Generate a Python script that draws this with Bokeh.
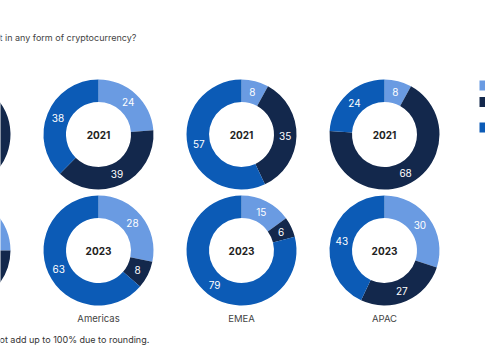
from bokeh.plotting import figure
from bokeh.models import Range1d, ColumnDataSource
from bokeh.core.properties import value
from bokeh.embed import file_html
from bokeh.resources import INLINE
import math

# ---- data ----
regions = ["Global", "Americas", "EMEA", "APAC"]
years = ["2021", "2023"]
series = ["Owned", "Not owned but considered", "Never owned"]
colors = ["#6A9BE2", "#13284C", "#0C5BB6"]
vals_2021 = [[12, 50, 38], [24, 39, 38], [8, 35, 57], [8, 68, 24]]
vals_2023 = [[25, 20, 55], [28, 8, 63], [15, 6, 79], [30, 27, 43]]
title_text = "t in any form of cryptocurrency?"
footnote_text = "ot add up to 100% due to rounding."

# ---- layout (pixels) ----
W, H = 485, 360
col_x0, col_dx = -45, 143
row_y = [134, 250]
r_out, r_in = 55, 32.5
r_lab = (r_out + r_in) / 2
FONT = "Inter"
first_visible = 1  # the leftmost column is cut off by the picture's edge

p = figure(width=W, height=H, output_backend="svg", toolbar_location=None,
           x_range=Range1d(0, W), y_range=Range1d(0, H), min_border=0)
p.axis.visible = False
p.grid.visible = False
p.outline_line_color = None
p.background_fill_color = "white"
p.border_fill_color = "white"
p.styles = {"position": "absolute", "left": "0px", "top": "0px"}

def Y(py):
    return H - py

wx, wy, ws, we, wc = [], [], [], [], []
lx, ly, lt = [], [], []
for ri, data in enumerate([vals_2021, vals_2023]):
    for ci, vals in enumerate(data):
        cx = col_x0 + col_dx * ci
        cy = Y(row_y[ri])
        total = sum(vals)
        cum = 0
        for si, v in enumerate(vals):
            a = cum / total
            b = (cum + v) / total
            wx.append(cx); wy.append(cy)
            ws.append(math.pi / 2 - 2 * math.pi * a)
            we.append(math.pi / 2 - 2 * math.pi * b)
            wc.append(colors[si])
            if ci >= first_visible:
                mid = (a + b) / 2 * 2 * math.pi
                lx.append(cx + r_lab * math.sin(mid))
                ly.append(cy + r_lab * math.cos(mid))
                lt.append(str(v))
            cum += v

src = ColumnDataSource(dict(x=wx, y=wy, s=ws, e=we, c=wc))
p.annular_wedge(x="x", y="y", inner_radius=r_in, outer_radius=r_out,
                start_angle="s", end_angle="e", direction="clock",
                fill_color="c", line_color=None, source=src)
p.text(x=lx, y=ly, text=lt, text_color="white", text_font=value(FONT),
       text_font_size="10px", text_align="center", text_baseline="middle")

# center year labels
cxs, cys, cts = [], [], []
for ri, yr in enumerate(years):
    for ci in range(first_visible, len(regions)):
        cxs.append(col_x0 + col_dx * ci); cys.append(Y(row_y[ri])); cts.append(yr)
p.text(x=cxs, y=cys, text=cts, text_color="#222222", text_font=value(FONT),
       text_font_size="10px", text_font_style="bold", text_align="center", text_baseline="middle")

# region labels
p.text(x=[col_x0 + col_dx * ci for ci in range(first_visible, len(regions))],
       y=[Y(318)] * (len(regions) - first_visible),
       text=regions[first_visible:], text_color="#444444", text_font=value(FONT),
       text_font_size="9.5px", text_align="center", text_baseline="middle")

# title and footnote
p.text(x=[-1], y=[Y(37)], text=[title_text], text_color="#444444", text_font=value(FONT),
       text_font_size="9px", text_align="left", text_baseline="middle")
p.text(x=[-1], y=[Y(339)], text=[footnote_text], text_color="#333333", text_font=value(FONT),
       text_font_size="9px", text_align="left", text_baseline="middle")

# legend swatches (cut at right edge)
p.rect(x=[484, 484, 484], y=[Y(85), Y(101.5), Y(127)], width=10, height=10,
       fill_color=colors, line_color=None)

open("out.html", "w").write(file_html(p, INLINE))
